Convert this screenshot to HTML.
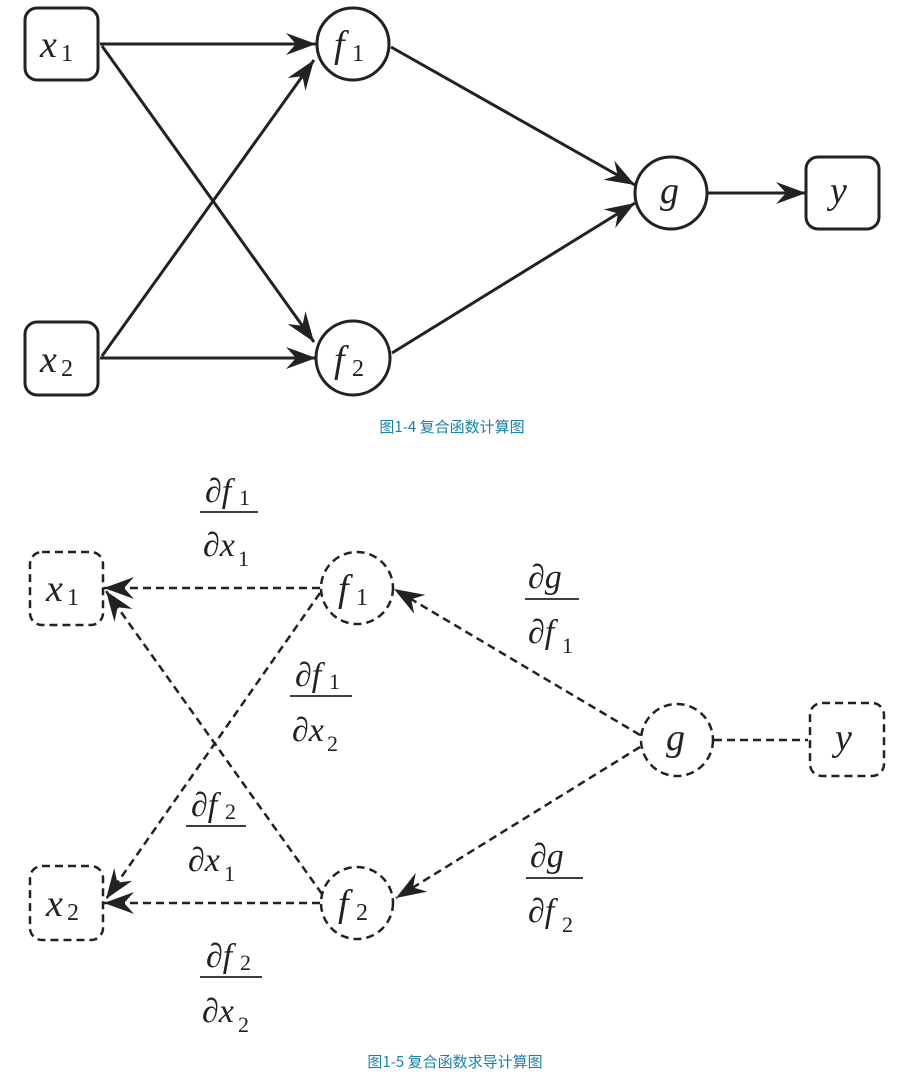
<!DOCTYPE html>
<html><head><meta charset="utf-8"><style>
html,body{margin:0;padding:0;background:#fff;}
svg{display:block;}
</style></head><body>
<svg width="907" height="1076" viewBox="0 0 907 1076" xmlns="http://www.w3.org/2000/svg">
<defs>
<marker id="a" viewBox="-30 -12 32 24" markerWidth="32" markerHeight="24" refX="0" refY="0" orient="auto" markerUnits="userSpaceOnUse">
<path d="M0,0 L-30,-11 L-20,0 L-30,11 Z" fill="#222"/>
</marker>
</defs>
<g stroke="#222" stroke-width="3" fill="none">
<rect x="25" y="8" width="73" height="72" rx="12"/>
<rect x="25" y="322" width="73" height="73" rx="12"/>
<circle cx="353" cy="44" r="36"/>
<circle cx="353" cy="358" r="37"/>
<circle cx="671" cy="193" r="36"/>
<rect x="806" y="157" width="73" height="72" rx="12"/>
<line x1="100" y1="44" x2="316" y2="44" marker-end="url(#a)"/>
<line x1="100" y1="358" x2="316" y2="358" marker-end="url(#a)"/>
<line x1="102" y1="46" x2="314" y2="342" marker-end="url(#a)"/>
<line x1="102" y1="356" x2="314" y2="60" marker-end="url(#a)"/>
<line x1="391" y1="47" x2="635" y2="185" marker-end="url(#a)"/>
<line x1="392" y1="353" x2="635" y2="203" marker-end="url(#a)"/>
<line x1="708" y1="193" x2="806" y2="193" marker-end="url(#a)"/>
</g>
<g stroke="#222" stroke-width="2.5" fill="none" stroke-dasharray="8,5">
<rect x="30" y="552" width="73" height="73" rx="12"/>
<rect x="30" y="866" width="73" height="74" rx="12"/>
<circle cx="357" cy="588" r="36"/>
<circle cx="357" cy="903" r="36"/>
<circle cx="677" cy="740" r="36"/>
<rect x="810" y="703" width="74" height="73" rx="12"/>
<line x1="320" y1="588" x2="104" y2="588" marker-end="url(#a)"/>
<line x1="320" y1="903" x2="104" y2="903" marker-end="url(#a)"/>
<line x1="320" y1="593" x2="106" y2="899" marker-end="url(#a)"/>
<line x1="322" y1="894" x2="106" y2="591" marker-end="url(#a)"/>
<line x1="640" y1="735" x2="394" y2="589" marker-end="url(#a)"/>
<line x1="640" y1="747" x2="396" y2="898" marker-end="url(#a)"/>
<line x1="714" y1="740" x2="808" y2="740"/>
</g>
<g font-family="'Liberation Serif', 'DejaVu Serif', serif" fill="#222">
<g font-style="italic" font-size="38">
<text x="40" y="57">x</text><text x="40" y="372">x</text>
<text x="334" y="57">f</text><text x="334" y="372">f</text>
<text x="660" y="203">g</text><text x="830" y="203">y</text>
<text x="46" y="601">x</text><text x="46" y="916">x</text>
<text x="338" y="601">f</text><text x="338" y="916">f</text>
<text x="666" y="750">g</text><text x="835" y="750">y</text>
<text x="205" y="502" font-size="34">∂f</text>
<text x="203" y="556" font-size="34">∂x</text>
<text x="528" y="588" font-size="34">∂g</text>
<text x="528" y="643" font-size="34">∂f</text>
<text x="295" y="686" font-size="34">∂f</text>
<text x="292" y="741" font-size="34">∂x</text>
<text x="191" y="816" font-size="34">∂f</text>
<text x="188" y="871" font-size="34">∂x</text>
<text x="530" y="867" font-size="34">∂g</text>
<text x="528" y="922" font-size="34">∂f</text>
<text x="206" y="967" font-size="34">∂f</text>
<text x="202" y="1022" font-size="34">∂x</text>
</g>
<g font-size="24">
<text x="61" y="61">1</text><text x="61" y="376">2</text>
<text x="352" y="61">1</text><text x="352" y="376">2</text>
<text x="67" y="605">1</text><text x="67" y="920">2</text>
<text x="356" y="605">1</text><text x="356" y="920">2</text>
<text x="239" y="505" font-size="22">1</text>
<text x="238" y="566" font-size="22">1</text>
<text x="562" y="653" font-size="22">1</text>
<text x="329" y="689" font-size="22">1</text>
<text x="327" y="751" font-size="22">2</text>
<text x="225" y="819" font-size="22">2</text>
<text x="224" y="881" font-size="22">1</text>
<text x="562" y="932" font-size="22">2</text>
<text x="240" y="970" font-size="22">2</text>
<text x="238" y="1032" font-size="22">2</text>
</g>
</g>
<g stroke="#222" stroke-width="1.8">
<line x1="200" y1="512" x2="258" y2="512"/>
<line x1="525" y1="599" x2="579" y2="599"/>
<line x1="290" y1="696" x2="352" y2="696"/>
<line x1="186" y1="826" x2="246" y2="826"/>
<line x1="526" y1="878" x2="583" y2="878"/>
<line x1="200" y1="977" x2="262" y2="977"/>
</g>
<g font-family="'Noto Sans CJK SC', sans-serif" font-size="15" fill="#1a80aa" text-anchor="middle">
<text x="452" y="432">图1-4 复合函数计算图</text>
<text x="455" y="1067">图1-5 复合函数求导计算图</text>
</g>
</svg>
</body></html>
